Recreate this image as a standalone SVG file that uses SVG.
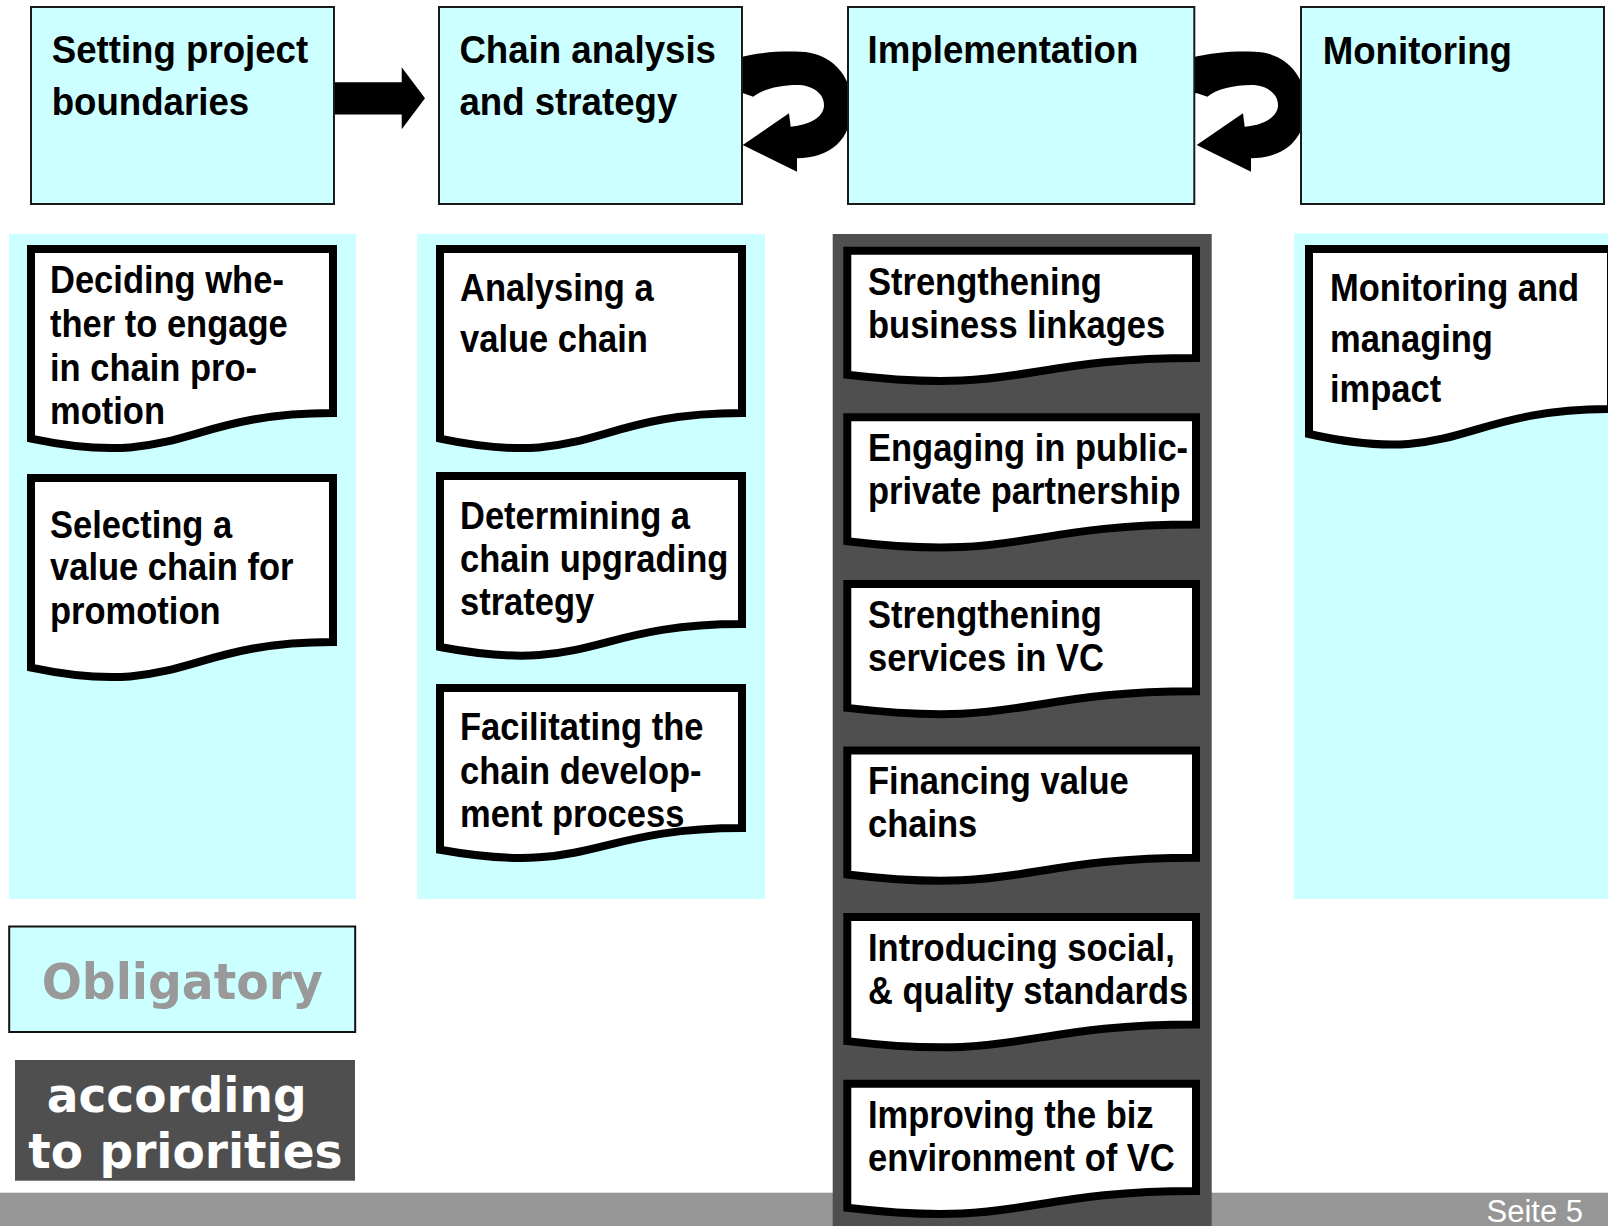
<svg xmlns="http://www.w3.org/2000/svg" width="1608" height="1226" viewBox="0 0 1608 1226">
<style>
.cy{fill:#CCFFFF}
.box{fill:#CCFFFF;stroke:#1a1a1a;stroke-width:2}
.doc{fill:#FFFFFF;stroke:#000;stroke-width:8;stroke-linejoin:miter}
.t{font-family:"Liberation Sans",Arial,sans-serif;font-weight:bold;font-size:39px;fill:#000}
.arr{fill:#000}
.leg{font-family:"DejaVu Sans",Verdana,sans-serif;font-weight:bold}
</style>
<defs>
<path id="uturn" d="M736,58 C760,52 780,51 800,51.7 C830,52 852,75 852,105 C852,140 830,158 797,158.3 L797,171.7 L742.7,145 L789,113.3 L790.7,126.7 C810,125 824,117 824,105 C824,93 812,85 797,85 C780,85 763,89 753.3,96.7 L743.3,93.3 L736,93 Z"/>
</defs>
<rect width="1608" height="1226" fill="#FFFFFF"/>
<rect id="footer-bar" x="0" y="1192.7" width="1608" height="33.3" fill="#969696"/>
<text x="1486.5" y="1222" font-family="Liberation Sans,Arial,sans-serif" font-size="31" fill="#FFFFFF">Seite 5</text>

<g id="panels">
<rect class="cy" x="9" y="234" width="347" height="665"/>
<rect class="cy" x="417.3" y="234" width="347.7" height="665"/>
<rect x="832.7" y="234" width="379" height="992" fill="#4F4F4F"/>
<rect class="cy" x="1294" y="233.3" width="314" height="665.7"/>
</g>

<g id="connectors">
<polygon class="arr" points="330,82.3 401.7,82.3 401.7,67.3 425,98.3 401.7,129.3 401.7,114.5 330,114.5"/>
<use href="#uturn" class="arr"/>
<use href="#uturn" class="arr" transform="translate(454,0)"/>
</g>

<g id="step-setting">
<rect class="box" x="31" y="7" width="303" height="197"/>
<text class="t" transform="translate(51.7,0) scale(0.94,1)"><tspan x="0" y="63.3">Setting project</tspan><tspan x="0" y="115">boundaries</tspan></text>
</g>
<g id="step-chain">
<rect class="box" x="439" y="7" width="303" height="197"/>
<text class="t" transform="translate(459.4,0) scale(0.94,1)"><tspan x="0" y="63.3">Chain analysis</tspan><tspan x="0" y="115">and strategy</tspan></text>
</g>
<g id="step-implementation">
<rect class="box" x="848" y="7" width="346.3" height="197"/>
<text class="t" transform="translate(867.6,0) scale(0.94,1)"><tspan x="0" y="63.3">Implementation</tspan></text>
</g>
<g id="step-monitoring">
<rect class="box" x="1301" y="7" width="303" height="197"/>
<text class="t" transform="translate(1322.7,0) scale(0.94,1)"><tspan x="0" y="64">Monitoring</tspan></text>
</g>

<g id="doc-deciding">
<path class="doc" d="M31,249 H333 V413 C182,413 182,470.3 31,438.6 Z"/>
<text class="t" transform="translate(50,0) scale(0.885,1)"><tspan x="0" y="293">Deciding whe-</tspan><tspan x="0" y="337.5">ther to engage</tspan><tspan x="0" y="381">in chain pro-</tspan><tspan x="0" y="424">motion</tspan></text>
</g>
<g id="doc-selecting">
<path class="doc" d="M31,478 H333 V642 C182,642 182,699.3 31,667.6 Z"/>
<text class="t" transform="translate(50,0) scale(0.885,1)"><tspan x="0" y="538">Selecting a</tspan><tspan x="0" y="580">value chain for</tspan><tspan x="0" y="624">promotion</tspan></text>
</g>

<g id="doc-analysing">
<path class="doc" d="M440,249 H742 V413 C591,413 591,470.3 440,438.6 Z"/>
<text class="t" transform="translate(460,0) scale(0.885,1)"><tspan x="0" y="301">Analysing a</tspan><tspan x="0" y="352">value chain</tspan></text>
</g>
<g id="doc-determining">
<path class="doc" d="M440,476 H742 V624 C591,624 591,675.7 440,647 Z"/>
<text class="t" transform="translate(460,0) scale(0.885,1)"><tspan x="0" y="529">Determining a</tspan><tspan x="0" y="572">chain upgrading</tspan><tspan x="0" y="615">strategy</tspan></text>
</g>
<g id="doc-facilitating">
<path class="doc" d="M440,688 H742 V828 C591,828 591,876.9 440,849.8 Z"/>
<text class="t" transform="translate(460,0) scale(0.885,1)"><tspan x="0" y="740">Facilitating the</tspan><tspan x="0" y="784">chain develop-</tspan><tspan x="0" y="827.5">ment process</tspan></text>
</g>

<g id="doc-linkages">
<path class="doc" d="M847.3,250.7 H1196 V358 C1021.7,358 1021.7,395.5 847.3,374.7 Z"/>
<text class="t" transform="translate(868,0) scale(0.885,1)"><tspan x="0" y="294.7">Strengthening</tspan><tspan x="0" y="337.7">business linkages</tspan></text>
</g>
<g id="doc-ppp">
<path class="doc" d="M847.3,417.3 H1196 V524.6 C1021.7,524.6 1021.7,562.1 847.3,541.3 Z"/>
<text class="t" transform="translate(868,0) scale(0.885,1)"><tspan x="0" y="461.3">Engaging in public-</tspan><tspan x="0" y="504.3">private partnership</tspan></text>
</g>
<g id="doc-services">
<path class="doc" d="M847.3,583.9 H1196 V691.2 C1021.7,691.2 1021.7,728.7 847.3,707.9 Z"/>
<text class="t" transform="translate(868,0) scale(0.885,1)"><tspan x="0" y="627.9">Strengthening</tspan><tspan x="0" y="670.9">services in VC</tspan></text>
</g>
<g id="doc-financing">
<path class="doc" d="M847.3,750.5 H1196 V857.8 C1021.7,857.8 1021.7,895.3 847.3,874.5 Z"/>
<text class="t" transform="translate(868,0) scale(0.885,1)"><tspan x="0" y="794.5">Financing value</tspan><tspan x="0" y="837.5">chains</tspan></text>
</g>
<g id="doc-standards">
<path class="doc" d="M847.3,917.1 H1196 V1024.4 C1021.7,1024.4 1021.7,1061.9 847.3,1041.1 Z"/>
<text class="t" transform="translate(868,0) scale(0.885,1)"><tspan x="0" y="961.1">Introducing social,</tspan><tspan x="0" y="1004.1">&amp; quality standards</tspan></text>
</g>
<g id="doc-environment">
<path class="doc" d="M847.3,1083.7 H1196 V1191 C1021.7,1191 1021.7,1228.5 847.3,1207.7 Z"/>
<text class="t" transform="translate(868,0) scale(0.885,1)"><tspan x="0" y="1127.7">Improving the biz</tspan><tspan x="0" y="1170.7">environment of VC</tspan></text>
</g>

<g id="doc-impact">
<path class="doc" d="M1309,249 H1611 V409 C1460,409 1460,468 1309,434 Z"/>
<text class="t" transform="translate(1330,0) scale(0.885,1)"><tspan x="0" y="301">Monitoring and</tspan><tspan x="0" y="352">managing</tspan><tspan x="0" y="402">impact</tspan></text>
</g>

<g id="legend-obligatory">
<rect x="9.2" y="926.5" width="346" height="105.5" fill="#CCFFFF" stroke="#111" stroke-width="2"/>
<text class="leg" transform="translate(41.7,999.3) scale(0.945,1)" font-size="50" fill="#999999">Obligatory</text>
</g>
<g id="legend-priorities">
<rect x="15" y="1060" width="340" height="120.7" fill="#4F4F4F"/>
<text class="leg" font-size="48" fill="#FFFFFF" transform="translate(46.7,1111.7) scale(0.98,1)">according</text>
<text class="leg" font-size="48" fill="#FFFFFF" transform="translate(28.3,1168) scale(0.98,1)">to priorities</text>
</g>
</svg>
